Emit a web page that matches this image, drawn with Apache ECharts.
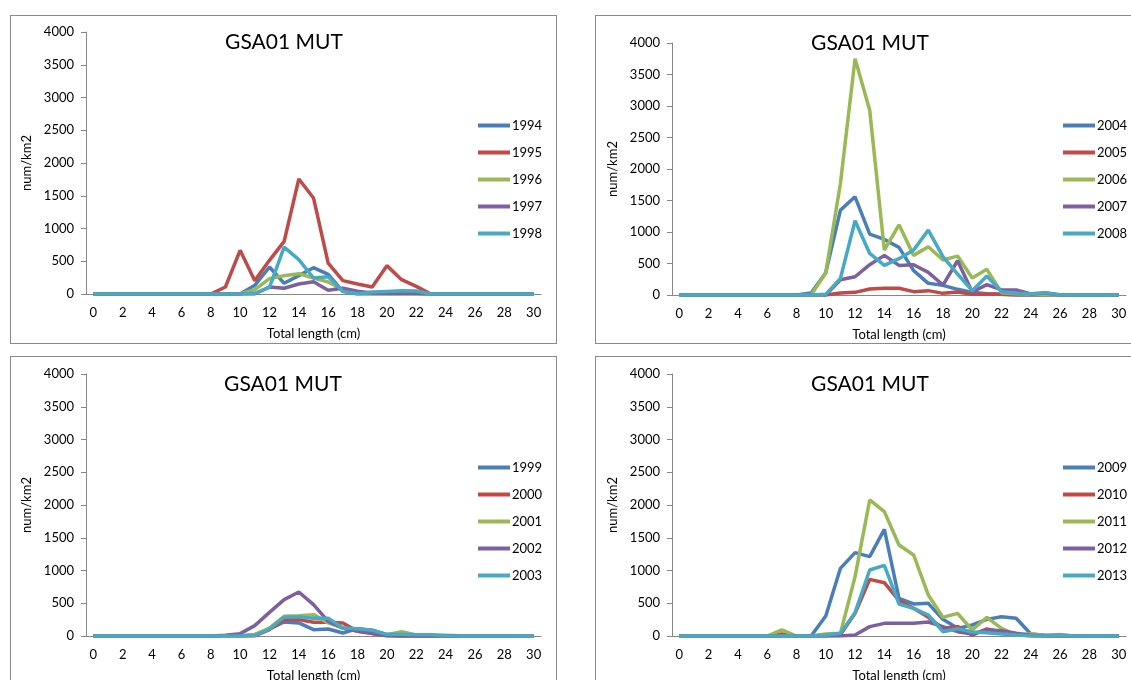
<!DOCTYPE html>
<html>
<head>
<meta charset="utf-8">
<script src="https://cdn.jsdelivr.net/npm/echarts@6/dist/echarts.min.js"></script>
<style>
html,body{margin:0;padding:0;background:#fff;width:1131px;height:680px;overflow:hidden;position:relative;}
.chart{position:absolute;}
.box{position:absolute;border:1px solid #8a8a8a;box-sizing:border-box;pointer-events:none;}
</style>
</head>
<body>
<div class="chart" id="c1" style="left:10px;top:15px;width:547px;height:340px"></div>
<div class="chart" id="c2" style="left:595px;top:15px;width:560px;height:340px"></div>
<div class="chart" id="c3" style="left:10px;top:356px;width:547px;height:340px"></div>
<div class="chart" id="c4" style="left:595px;top:356px;width:560px;height:340px"></div>
<div class="box" style="left:10px;top:15px;width:547px;height:329px"></div>
<div class="box" style="left:595px;top:15px;width:560px;height:329px"></div>
<div class="box" style="left:10px;top:356px;width:547px;height:340px"></div>
<div class="box" style="left:595px;top:356px;width:560px;height:340px"></div>
<script>
const categories = ['0','1','2','3','4','5','6','7','8','9','10','11','12','13','14','15','16','17','18','19','20','21','22','23','24','25','26','27','28','29','30'];
const yTicks = [0, 4000, 500];
const chartTitle = 'GSA01 MUT';
const yName = 'num/km2';
const xName = 'Total length (cm)';

const years1 = ['1994','1995','1996','1997','1998'];
const s1994 = [0,0,0,0,0,0,0,0,0,0,0,132,412,163,280,402,300,41,0,0,0,0,0,0,0,0,0,0,0,0,0];
const s1995 = [0,0,0,0,0,0,0,0,0,107,667,204,514,804,1756,1466,473,204,153,107,433,219,117,0,0,0,0,0,0,0,0];
const s1996 = [0,0,0,0,0,0,0,0,0,0,0,66,234,280,310,244,183,66,30,10,0,0,0,0,0,0,0,0,0,0,0];
const s1997 = [0,0,0,0,0,0,0,0,0,0,0,0,107,87,153,188,56,87,41,15,10,10,10,0,0,0,0,0,0,0,0];
const s1998 = [0,0,0,0,0,0,0,0,0,0,0,10,102,716,524,244,265,41,5,30,40,50,45,0,0,0,0,0,0,0,0];

const years2 = ['2004','2005','2006','2007','2008'];
const s2004 = [0,0,0,0,0,0,0,0,0,30,354,1347,1559,967,882,756,386,185,153,90,42,20,10,0,0,0,0,0,0,0,0];
const s2005 = [0,0,0,0,0,0,0,0,0,0,0,30,42,95,106,106,53,69,26,48,10,15,10,0,0,0,0,0,0,0,0];
const s2006 = [0,0,0,0,0,0,0,0,0,0,354,1770,3752,2933,713,1115,629,766,555,618,270,407,37,20,10,5,0,0,0,0,0];
const s2007 = [0,0,0,0,0,0,0,0,0,0,0,243,290,481,629,470,481,359,158,544,48,164,80,80,15,30,0,0,0,0,0];
const s2008 = [0,0,0,0,0,0,0,0,0,0,10,264,1178,660,470,576,713,1030,608,333,69,301,53,26,20,35,5,0,0,0,0];

const years3 = ['1999','2000','2001','2002','2003'];
const s1999 = [0,0,0,0,0,0,0,0,0,0,0,20,107,214,199,97,107,46,112,87,20,0,0,0,0,0,0,0,0,0,0];
const s2000 = [0,0,0,0,0,0,0,0,0,0,0,0,97,250,250,209,209,199,71,36,5,0,0,0,0,0,0,0,0,0,0];
const s2001 = [0,0,0,0,0,0,0,0,0,0,0,20,122,300,310,326,199,122,97,71,20,66,15,10,10,5,0,5,0,0,0];
const s2002 = [0,0,0,0,0,0,0,0,0,10,36,158,361,555,672,478,224,122,71,46,5,0,0,0,0,0,0,0,0,0,0];
const s2003 = [0,0,0,0,0,0,0,0,0,0,0,10,107,290,290,270,270,122,112,87,25,25,20,20,5,0,0,0,0,0,0];

const years4 = ['2009','2010','2011','2012','2013'];
const s2009 = [0,0,0,0,0,0,0,0,0,0,305,1033,1273,1211,1629,575,489,499,254,117,168,254,295,270,31,10,15,0,0,0,0];
const s2010 = [0,0,0,0,0,0,0,31,0,0,0,20,346,865,814,540,422,285,117,143,15,107,66,25,0,0,0,0,0,0,0];
const s2011 = [0,0,0,0,0,0,0,92,0,0,31,41,906,2077,1899,1390,1237,626,285,346,92,285,117,15,36,5,0,0,0,0,0];
const s2012 = [0,0,0,0,0,0,0,0,0,0,0,0,15,143,193,193,193,214,143,66,31,92,81,41,10,0,0,0,0,0,0];
const s2013 = [0,0,0,0,0,0,0,0,0,0,10,41,356,1008,1079,489,422,321,66,112,61,51,31,15,5,0,15,0,0,0,0];

const colors = ['#4A7EBB','#BE4B48','#98B954','#7D60A0','#46AAC5'];
const FONT = 'Lato, "Open Sans", sans-serif';

function build(id, years, seriesData, g, legendTop, titlePos) {
  const chart = echarts.init(document.getElementById(id), null, {renderer: 'canvas'});
  g.outerBoundsMode = 'none';
  g.containLabel = false;
  chart.setOption({
    animation: false,
    color: colors,
    textStyle: {fontFamily: FONT},
    grid: g,
    graphic: [{
      type: 'text', x: titlePos[0], y: titlePos[1],
      style: {text: chartTitle, font: '21px ' + FONT, fill: '#000', textAlign: 'center', textVerticalAlign: 'middle'}
    }],
    legend: {
      orient: 'vertical', left: 463, top: legendTop,
      itemWidth: 32, itemHeight: 4, itemGap: 14, icon: 'rect',
      textStyle: {fontSize: 13, color: '#000', fontFamily: FONT, padding: [0,0,0,-3]},
      data: years
    },
    xAxis: {
      type: 'category', data: categories, boundaryGap: true,
      name: xName, nameLocation: 'middle', nameGap: 33,
      nameTextStyle: {fontSize: 13, color: '#000', fontFamily: FONT},
      axisLine: {lineStyle: {color: '#868686', width: 1}},
      axisTick: {interval: 0, length: 5, lineStyle: {color: '#868686'}},
      axisLabel: {interval: 1, fontSize: 13, color: '#000', margin: 12, fontFamily: FONT},
      splitLine: {show: false}
    },
    yAxis: {
      type: 'value', min: yTicks[0], max: yTicks[1], interval: yTicks[2],
      name: yName, nameLocation: 'middle', nameGap: 46,
      nameTextStyle: {fontSize: 13, color: '#000', fontFamily: FONT},
      axisLine: {show: true, lineStyle: {color: '#868686', width: 1}},
      axisTick: {show: true, length: 5, lineStyle: {color: '#868686'}},
      axisLabel: {fontSize: 13, color: '#000', margin: 12, fontFamily: FONT, formatter: v => String(v)},
      splitLine: {show: false}
    },
    series: years.map((y, i) => ({
      name: y, type: 'line', data: seriesData[i], showSymbol: false, symbol: 'none',
      lineStyle: {width: 3.5, color: colors[i]}, itemStyle: {color: colors[i]}
    }))
  });
}

build('c1', years1, [s1994,s1995,s1996,s1997,s1998], {left: 76, top: 17, width: 455, height: 262}, 99, [274, 27]);
build('c2', years2, [s2004,s2005,s2006,s2007,s2008], {left: 77, top: 28, width: 454, height: 252}, 99, [275, 28]);
build('c3', years3, [s1999,s2000,s2001,s2002,s2003], {left: 76, top: 18, width: 455, height: 262}, 100, [273, 28]);
build('c4', years4, [s2009,s2010,s2011,s2012,s2013], {left: 77, top: 18, width: 454, height: 262}, 100, [275, 28]);
</script>
</body>
</html>
